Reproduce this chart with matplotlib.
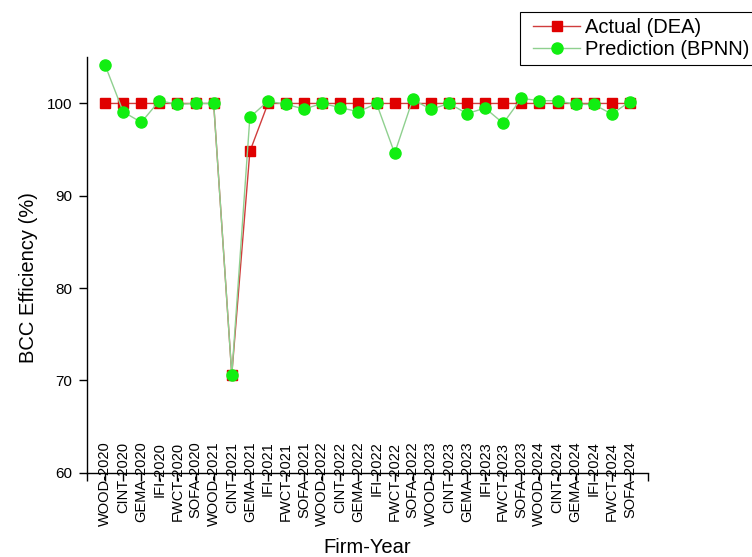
import matplotlib
matplotlib.use("Agg")
import matplotlib.pyplot as plt
from matplotlib.lines import Line2D
from matplotlib.legend_handler import HandlerLine2D

plt.rcParams['font.family'] = ['Liberation Sans', 'DejaVu Sans']

# firm-year categories
firms = ["WOOD", "CINT", "GEMA", "IFI", "FWCT", "SOFA"]
years = [2020, 2021, 2022, 2023, 2024]
labels = [f"{f}-{y}" for y in years for f in firms]

# BCC efficiency (%)
actual_dea = [100, 100, 100, 100, 100, 100,
              100, 70.6, 94.8, 100, 100, 100,
              100, 100, 100, 100, 100, 100,
              100, 100, 100, 100, 100, 100,
              100, 100, 100, 100, 100, 100]
pred_bpnn = [104.15, 99.1, 97.95, 100.3, 99.9, 100.0,
             100.0, 70.6, 98.5, 100.25, 99.9, 99.4,
             100.0, 99.55, 99.1, 100.0, 94.6, 100.45,
             99.35, 100.0, 98.9, 99.5, 97.85, 100.55,
             100.3, 100.3, 99.9, 99.9, 98.85, 100.2]

x = list(range(1, len(labels) + 1))

fig = plt.figure(figsize=(7.52, 5.57), dpi=100)
ax = fig.add_axes([87 / 752, 1 - 472.7 / 557, (648 - 87) / 752, (472.7 - 57.3) / 557])

ax.plot(x, actual_dea, color="#d03c3c", lw=1.0, marker="s", markersize=6.5,
        markerfacecolor="#e00000", markeredgecolor="#e00000", label="Actual (DEA)")
ax.plot(x, pred_bpnn, color="#8fd08f", lw=1.0, marker="o", markersize=8,
        markerfacecolor="#11ee11", markeredgecolor="#11ee11", label="Prediction (BPNN)")

ax.set_xlim(0, len(labels) + 1)
ax.set_ylim(60, 105)
ax.set_yticks([60, 70, 80, 90, 100])
ax.set_xticks(range(0, len(labels) + 2))
ax.set_xticklabels([""] + labels + [""], rotation=90, fontsize=10.5, va="top")

ax.spines["top"].set_visible(False)
ax.spines["right"].set_visible(False)
for s in ["left", "bottom"]:
    ax.spines[s].set_linewidth(1.0)
ax.tick_params(axis="y", direction="out", length=6, width=1, labelsize=11, pad=4.8)
ax.tick_params(axis="x", direction="out", length=6, width=1, pad=-28.3)

ax.set_xlabel("Firm-Year", fontsize=14.5)
ax.xaxis.set_label_coords(0.5, -0.193)
ax.xaxis.label.set_verticalalignment("baseline")
ax.set_ylabel("BCC Efficiency (%)", fontsize=14.5)
ax.yaxis.set_label_coords(-0.0945, 0.47)
ax.yaxis.label.set_verticalalignment("baseline")

# legend box runs past the right edge of the figure, as in the original
leg = ax.legend(loc="upper left", bbox_to_anchor=(520 / 752, 1 - 12 / 557),
                bbox_transform=fig.transFigure, borderaxespad=0, fontsize=14.5,
                frameon=True, fancybox=False, edgecolor="black", framealpha=1,
                borderpad=0.3, labelspacing=0.15, handlelength=2.7, handletextpad=0.25,
                handler_map={Line2D: HandlerLine2D(xpad=0.35)})
leg.get_frame().set_linewidth(0.8)

fig.savefig("out.png", dpi=100)
